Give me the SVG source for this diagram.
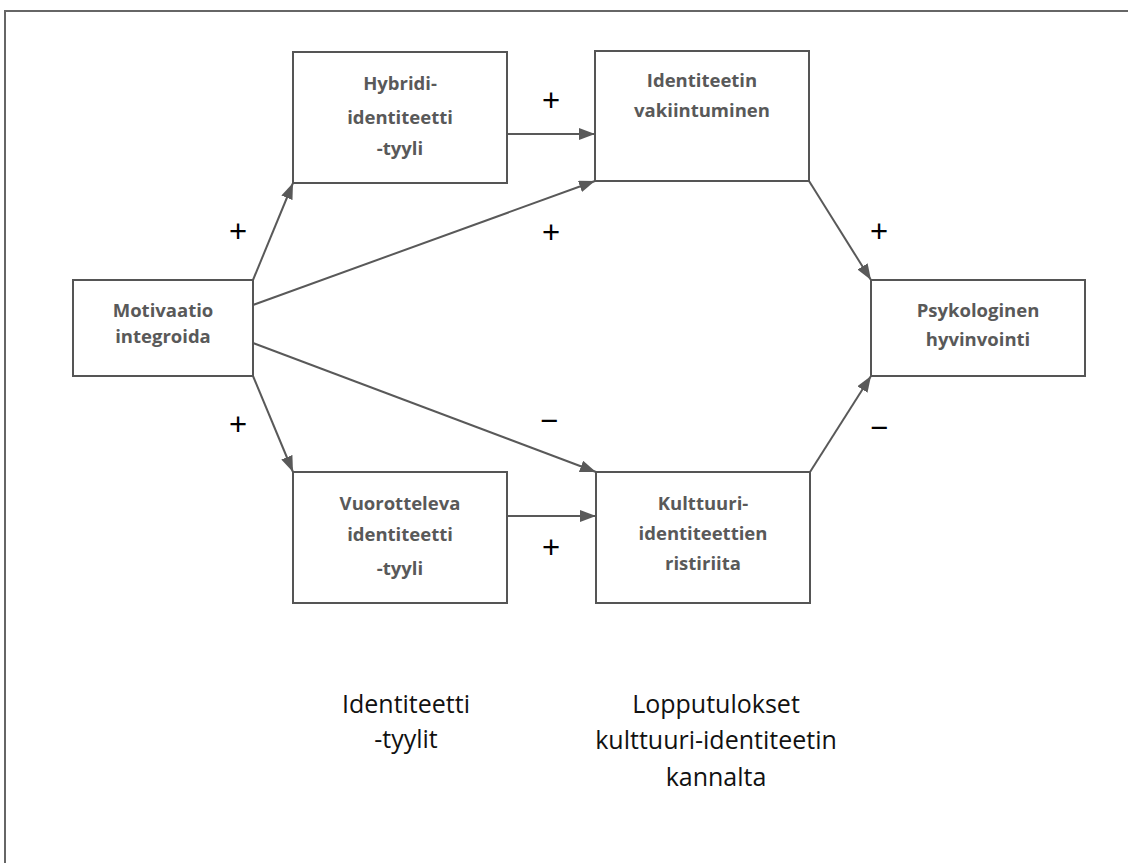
<svg xmlns="http://www.w3.org/2000/svg" width="1128" height="863" viewBox="0 0 1128 863">
<style>
.box{fill:#fff;stroke:#555;stroke-width:2}
.bt{font-family:"Open Sans","Liberation Sans",sans-serif;font-weight:bold;font-size:18.5px;fill:#595959;text-anchor:middle}
.lab{font-family:"Open Sans","Liberation Sans",sans-serif;font-size:25px;fill:#111;text-anchor:middle}
.sg{font-family:"Liberation Sans",Arial,sans-serif;font-size:31px;fill:#000;text-anchor:middle;dominant-baseline:central}
.c{fill:none;stroke:#595959;stroke-width:2;marker-end:url(#ah)}
</style>
<defs>
<marker id="ah" markerUnits="userSpaceOnUse" markerWidth="17" markerHeight="13" refX="16" refY="6" orient="auto">
<path d="M0,0 L16,6 L0,12 z" fill="#595959"/>
</marker>
</defs>
<rect width="1128" height="863" fill="#fff"/>
<path d="M5,863 V11 H1128" fill="none" stroke="#666" stroke-width="2"/>
<g id="connectors">
<path class="c" d="M253,280 L293,183"/>
<path class="c" d="M253,305 L595,181"/>
<path class="c" d="M253,343 L596,472"/>
<path class="c" d="M253,376 L293,472"/>
<path class="c" d="M507,134 L595,134"/>
<path class="c" d="M507,516 L596,516"/>
<path class="c" d="M809,181 L871,280"/>
<path class="c" d="M810,472 L871,376"/>
</g>
<g id="motivaatio">
<rect class="box" x="73" y="280" width="180" height="96"/>
<text class="bt" x="163" y="317">Motivaatio</text>
<text class="bt" x="163" y="343">integroida</text>
</g>
<g id="hybridi">
<rect class="box" x="293" y="52" width="214" height="131"/>
<text class="bt" x="400" y="90">Hybridi-</text>
<text class="bt" x="400" y="124">identiteetti</text>
<text class="bt" x="400" y="155">-tyyli</text>
</g>
<g id="vakiintuminen">
<rect class="box" x="595" y="51" width="214" height="130"/>
<text class="bt" x="702" y="87">Identiteetin</text>
<text class="bt" x="702" y="117">vakiintuminen</text>
</g>
<g id="vuorotteleva">
<rect class="box" x="293" y="472" width="214" height="131"/>
<text class="bt" x="400" y="510">Vuorotteleva</text>
<text class="bt" x="400" y="541">identiteetti</text>
<text class="bt" x="400" y="575">-tyyli</text>
</g>
<g id="ristiriita">
<rect class="box" x="596" y="472" width="214" height="131"/>
<text class="bt" x="703" y="510">Kulttuuri-</text>
<text class="bt" x="703" y="540">identiteettien</text>
<text class="bt" x="703" y="570">ristiriita</text>
</g>
<g id="hyvinvointi">
<rect class="box" x="871" y="280" width="214" height="96"/>
<text class="bt" x="978" y="317">Psykologinen</text>
<text class="bt" x="978" y="346">hyvinvointi</text>
</g>
<g id="signs">
<text class="sg" x="238" y="231">+</text>
<text class="sg" x="551" y="100">+</text>
<text class="sg" x="551" y="232">+</text>
<text class="sg" x="879" y="231">+</text>
<text class="sg" x="238" y="424">+</text>
<text class="sg" x="551" y="547">+</text>
<text class="sg" x="549" y="420">−</text>
<text class="sg" x="879" y="427">−</text>
</g>
<g id="labels">
<text class="lab" x="406" y="713">Identiteetti</text>
<text class="lab" x="406" y="748">-tyylit</text>
<text class="lab" x="716" y="713">Lopputulokset</text>
<text class="lab" x="716" y="749">kulttuuri-identiteetin</text>
<text class="lab" x="716" y="786">kannalta</text>
</g>
</svg>
